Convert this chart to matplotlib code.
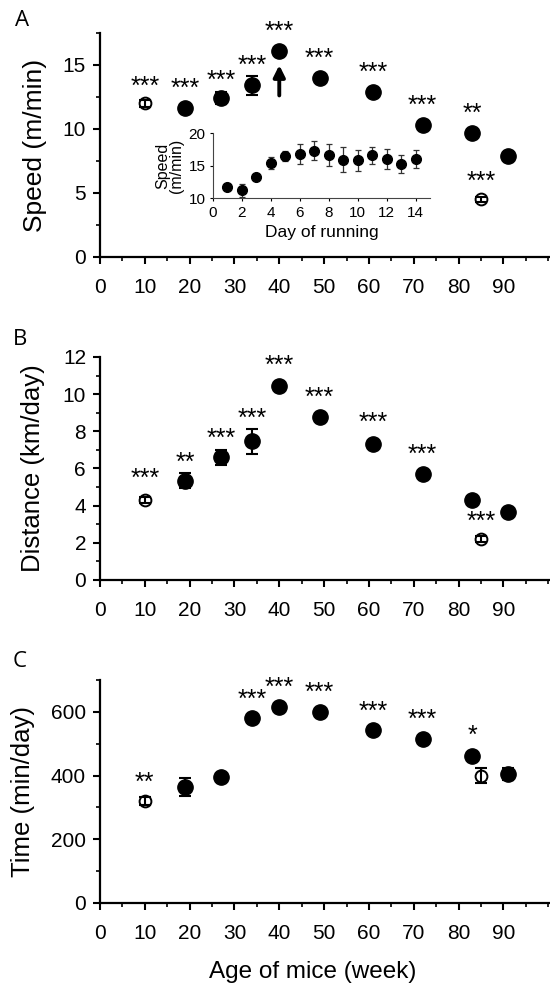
import matplotlib.pyplot as plt
from matplotlib.ticker import MultipleLocator

plt.rcParams['font.family'] = ['Liberation Sans', 'DejaVu Sans']

# age of mice (week) for each group
ages = [10, 19, 27, 34, 40, 49, 61, 72, 83, 85, 91]
open_grp = [True, False, False, False, False, False, False, False, False, True, False]

# A: speed (m/min)
speed = [12.0, 11.6, 12.4, 13.4, 16.1, 14.0, 12.9, 10.3, 9.65, 4.5, 7.85]
speed_err = [0.25, 0.2, 0.45, 0.75, 0.2, 0.2, 0.2, 0.2, 0.2, 0.2, 0.2]
speed_stars = ['***', '***', '***', '***', '***', '***', '***', '***', '**', '***', '']
speed_star_y = [13.3, 13.1, 13.75, 14.9, 17.6, 15.5, 14.4, 11.8, 11.2, 5.9, 0]

# B: distance (km/day)
dist = [4.31, 5.35, 6.61, 7.45, 10.42, 8.77, 7.31, 5.68, 4.31, 2.21, 3.63]
dist_err = [0.15, 0.4, 0.4, 0.65, 0.15, 0.1, 0.1, 0.1, 0.2, 0.15, 0.1]
dist_stars = ['***', '**', '***', '***', '***', '***', '***', '***', '', '***', '']
dist_star_y = [5.42, 6.32, 7.58, 8.66, 11.5, 9.79, 8.44, 6.74, 0, 3.14, 0]

# C: time (min/day)
time_ = [321, 364, 396, 579, 616, 599, 542, 516, 461, 400, 405]
time_err = [12, 28, 8, 8, 8, 8, 8, 8, 8, 25, 18]
time_stars = ['**', '', '', '***', '***', '***', '***', '***', '*', '', '']
time_star_y = [377, 0, 0, 636, 675, 660, 599, 576, 524, 0, 0]

# inset: speed by day of running
days = list(range(1, 15))
day_speed = [11.8, 11.2, 13.3, 15.4, 16.5, 16.85, 17.35, 16.6, 15.95, 15.85, 16.6, 16.05, 15.3, 16.05]
day_err = [0.4, 1.0, 0.4, 0.9, 0.8, 1.5, 1.5, 1.7, 1.9, 1.6, 1.3, 1.5, 1.4, 1.4]


def style_axis(ax, ymax, ymajor, yminor):
    ax.set_xlim(0, 100.4)
    ax.set_ylim(0, ymax)
    ax.xaxis.set_minor_locator(MultipleLocator(5))
    ax.yaxis.set_major_locator(MultipleLocator(ymajor))
    ax.yaxis.set_minor_locator(MultipleLocator(yminor))
    ax.set_xticks(range(0, 100, 10))
    ax.set_xticklabels([str(v) for v in range(0, 100, 10)])
    for s in ['top', 'right']:
        ax.spines[s].set_visible(False)
    for s in ['left', 'bottom']:
        ax.spines[s].set_linewidth(1.6)
    ax.tick_params(which='major', direction='out', length=5, width=1.5, labelsize=15, pad=5)
    ax.tick_params(which='minor', direction='out', length=3, width=1.2)
    ax.tick_params(axis='x', which='major', pad=10)


def draw_points(ax, y, err, stars, star_y):
    for i, x in enumerate(ages):
        if open_grp[i]:
            ax.plot(x, y[i], 'o', ms=8.5, mfc='white', mec='black', mew=1.4, zorder=2)
        else:
            ax.plot(x, y[i], 'o', ms=11, color='black', zorder=2)
        ax.errorbar(x, y[i], yerr=err[i], fmt='none', ecolor='black',
                    elinewidth=1.5, capsize=4, capthick=1.5, zorder=3)
        if stars[i]:
            ax.text(x, star_y[i], stars[i], ha='center', va='center', fontsize=18)


fig = plt.figure(figsize=(5.5, 9.86), dpi=100)

axA = fig.add_axes([0.1818, 0.7394, 0.8182, 0.2272])
axB = fig.add_axes([0.1818, 0.4118, 0.8182, 0.2262])
axC = fig.add_axes([0.1818, 0.0842, 0.8182, 0.2262])

style_axis(axA, 17.5, 5, 2.5)
draw_points(axA, speed, speed_err, speed_stars, speed_star_y)
axA.annotate('', xy=(40, 15.2), xytext=(40, 12.4),
             arrowprops=dict(arrowstyle='-|>', lw=2.8, color='black', mutation_scale=17))
axA.set_ylabel('Speed (m/min)', fontsize=19)
axA.yaxis.set_label_coords(-0.118, 0.5)

style_axis(axB, 12, 2, 1)
draw_points(axB, dist, dist_err, dist_stars, dist_star_y)
axB.set_ylabel('Distance (km/day)', fontsize=18.5)
axB.yaxis.set_label_coords(-0.122, 0.5)

style_axis(axC, 700, 200, 100)
draw_points(axC, time_, time_err, time_stars, time_star_y)
axC.set_ylabel('Time (min/day)', fontsize=18.5)
axC.yaxis.set_label_coords(-0.144, 0.5)
axC.set_xlabel('Age of mice (week)', fontsize=17.5)
axC.xaxis.set_label_coords(0.473, -0.262)

# inset
axI = fig.add_axes([0.3873, 0.7989, 0.3945, 0.0659])
axI.errorbar(days, day_speed, yerr=day_err, fmt='o', ms=7, color='black',
             ecolor='#333333', elinewidth=0.9, capsize=2.5, capthick=0.9)
axI.set_xlim(0, 15)
axI.set_ylim(10, 20)
axI.set_xticks(range(0, 15, 2))
axI.set_yticks([10, 15, 20])
for s in ['top', 'right']:
    axI.spines[s].set_visible(False)
for s in ['left', 'bottom']:
    axI.spines[s].set_linewidth(0.8)
    axI.spines[s].set_color('#444444')
axI.tick_params(direction='out', length=2.5, width=0.8, labelsize=11, pad=3)
axI.set_xlabel('Day of running', fontsize=12.5, labelpad=4)
axI.set_ylabel('Speed\n(m/min)', fontsize=11.5, labelpad=3, linespacing=0.9)
axI.patch.set_alpha(0)

fig.text(0.040, 0.979, 'A', fontsize=16, ha='center', va='center', family=['Open Sans', 'DejaVu Sans'])
fig.text(0.036, 0.656, 'B', fontsize=16, ha='center', va='center', family=['Open Sans', 'DejaVu Sans'])
fig.text(0.036, 0.329, 'C', fontsize=16, ha='center', va='center', family=['Open Sans', 'DejaVu Sans'])

fig.savefig('out.png', dpi=100)
